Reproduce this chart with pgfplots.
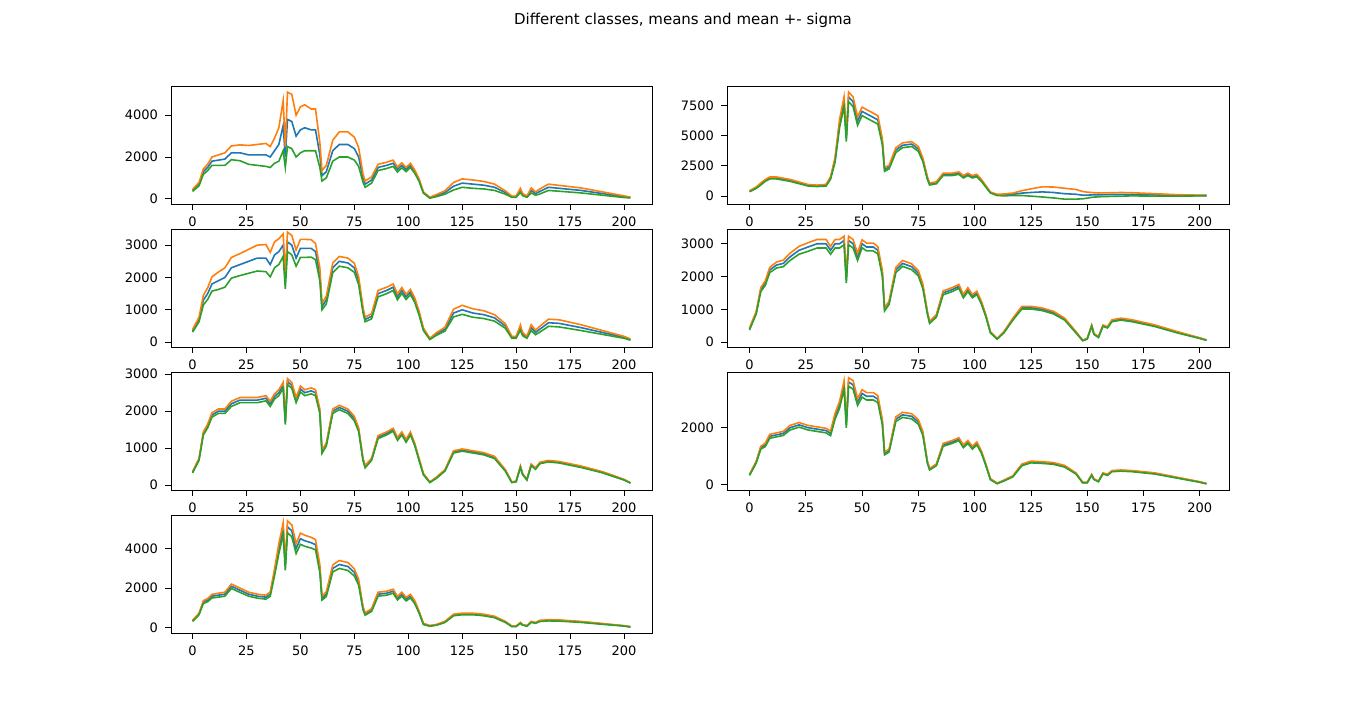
\documentclass[border=0pt]{standalone}
\usepackage{pgfplots}
\usepackage{pgfplotstable}
\usepackage{fontspec}
\setmainfont{DejaVu Sans}
\pgfplotsset{compat=1.18}
\definecolor{c0}{HTML}{1F77B4}\definecolor{c1}{HTML}{FF7F0E}\definecolor{c2}{HTML}{2CA02C}
\pgfplotstableread{
x m1 s1 m2 s2 m3 s3 m4 s4 m5 s5 m6 s6 m7 s7
0 400 50 400 40 350 40 400 30 350 20 350 20 350 30
3 700 80 700 60 700 70 900 40 700 25 800 30 700 40
5 1300 130 1000 80 1300 150 1600 60 1400 40 1300 50 1300 70
7 1500 150 1300 80 1500 180 1800 70 1600 50 1400 60 1400 80
9 1800 200 1500 80 1800 220 2200 80 1900 60 1700 70 1600 90
12 1850 250 1500 80 1900 270 2350 90 2000 60 1750 70 1650 100
15 1900 300 1400 80 2000 300 2400 100 2000 60 1800 70 1700 100
18 2200 330 1300 80 2300 320 2600 110 2200 70 2000 80 2100 110
22 2200 380 1100 70 2400 340 2800 120 2300 70 2100 80 1900 110
26 2100 450 900 60 2500 370 2900 130 2300 70 2000 80 1700 100
30 2100 500 850 60 2600 400 3000 130 2300 70 1950 80 1600 100
34 2100 550 900 70 2600 420 3000 130 2350 70 1900 80 1550 100
36 2000 500 1500 100 2400 380 2800 120 2200 70 1800 80 1700 110
38 2300 600 3000 200 2700 400 3000 130 2400 70 2400 100 2800 170
40 2600 800 6000 350 2800 400 3000 130 2500 80 2800 120 4000 250
42 3500 1200 7800 400 3000 350 3100 130 2700 80 3500 140 5000 300
43 2000 500 4800 300 1900 250 1900 100 1700 60 2100 100 3100 200
44 3800 1300 8200 400 3100 300 3100 130 2800 80 3600 150 5100 300
46 3700 1300 7800 400 3000 300 3000 130 2700 80 3500 150 4900 300
48 3000 1000 6200 350 2600 250 2600 110 2300 70 2900 120 4000 250
50 3300 1100 7000 350 2900 280 3000 120 2600 80 3200 130 4500 280
52 3400 1100 6800 350 2900 280 2900 120 2500 80 3100 130 4400 280
55 3300 1000 6500 350 2900 270 2900 120 2550 80 3100 130 4300 270
57 3300 1000 6300 350 2800 250 2800 110 2500 80 3000 120 4200 260
59 2100 600 4500 250 2100 200 2100 90 2000 60 2200 90 3000 200
60 1100 250 2200 150 1100 100 1000 50 900 40 1100 50 1500 100
62 1300 300 2400 150 1300 120 1200 50 1100 40 1200 50 1700 120
65 2300 500 3800 200 2300 150 2200 80 2000 60 2300 80 3000 180
68 2600 600 4200 200 2500 150 2400 90 2100 60 2450 90 3200 200
72 2600 600 4300 200 2450 150 2300 90 2000 60 2400 90 3100 200
75 2400 550 3900 200 2300 140 2100 80 1800 60 2200 80 2800 180
77 2000 450 3000 150 1900 120 1700 70 1500 50 1800 70 2300 150
79 1000 200 1500 100 1000 80 900 40 700 30 800 40 1000 80
80 700 150 1000 80 700 70 600 30 500 30 550 30 700 60
83 900 150 1100 80 800 80 800 40 700 30 700 30 900 70
86 1500 150 1800 100 1500 100 1500 60 1300 40 1400 50 1700 100
90 1600 150 1800 100 1600 100 1600 60 1400 40 1500 50 1750 100
93 1700 150 1900 100 1700 100 1700 60 1500 40 1600 50 1850 100
95 1400 120 1600 100 1400 90 1400 50 1250 40 1350 50 1500 90
97 1600 120 1800 100 1600 90 1600 60 1400 40 1500 50 1700 100
99 1400 100 1600 100 1400 80 1400 50 1200 40 1300 50 1450 90
101 1600 100 1700 100 1550 80 1500 50 1400 40 1450 50 1600 90
103 1300 80 1300 80 1300 70 1200 40 1100 30 1150 40 1300 80
105 900 60 800 60 900 60 800 30 700 30 700 30 800 50
107 300 30 300 40 400 40 300 20 300 20 200 20 200 30
110 50 20 100 50 100 20 100 10 80 10 50 10 100 20
113 150 50 100 80 250 40 300 20 200 15 150 15 150 20
117 300 80 150 100 400 60 700 30 400 20 300 20 300 30
121 600 180 250 200 900 120 1050 40 900 30 700 30 650 40
125 750 200 300 300 1000 140 1050 40 950 30 800 30 700 40
130 700 200 350 420 900 130 1000 40 900 30 780 30 700 40
135 650 180 300 450 850 120 900 40 850 30 750 30 650 40
140 550 150 200 450 750 100 700 30 750 30 650 30 550 35
145 300 80 150 400 500 70 300 20 400 20 400 20 300 25
148 100 30 80 300 150 30 50 10 80 10 80 10 80 15
150 100 30 80 250 150 30 100 10 100 10 80 10 80 15
152 400 100 100 200 450 80 500 20 500 20 350 20 250 20
153 200 50 100 180 250 50 250 15 300 15 200 15 150 15
155 100 30 100 160 150 30 150 10 150 10 120 10 100 15
157 400 120 120 150 450 90 500 20 550 20 400 20 300 25
159 250 80 120 150 300 70 450 20 450 20 350 20 250 20
161 350 120 130 150 400 90 650 30 600 20 480 20 350 30
165 550 150 150 150 600 110 700 30 650 20 500 20 380 30
170 500 140 150 130 580 110 650 30 620 20 480 20 370 30
180 400 120 100 100 450 90 500 25 500 20 400 20 300 25
190 250 80 60 60 300 60 300 20 350 15 250 15 200 20
200 100 40 50 30 150 30 120 10 150 10 100 10 100 10
203 60 20 50 20 80 20 60 5 60 5 40 5 50 10
}\data
\pgfplotsset{every axis/.append style={scale only axis, height=59pt,
 xmin=-10, xmax=213, xtick={0,25,...,200}, axis line style={line width=0.4pt},
 tick style={black, line width=0.4pt}, major tick length=3pt,
 tick align=outside, xtick pos=bottom, ytick pos=left,
 ticklabel style={font=\fontsize{6.5}{8}\selectfont},
 /pgf/number format/assume math mode=true, scaled y ticks=false,
 yticklabel style={/pgf/number format/1000 sep={}},
 every axis plot/.append style={line width=0.8pt, no marks}}}
\newcommand\panel[6]{%
\begin{axis}[at={(#1pt,#2pt)}, width=#6pt, ymin=#4, ymax=#5, ytick={#3}]
\addplot[c0] table[x=x,y=m\pid]{\data};
\addplot[c1] table[x=x,y expr=\thisrow{m\pid}+\thisrow{s\pid}]{\data};
\addplot[c2] table[x=x,y expr=\thisrow{m\pid}-\thisrow{s\pid}]{\data};
\end{axis}}
\begin{document}
\begin{tikzpicture}[x=1pt,y=1pt]
\path[use as bounding box] (0,0) rectangle (683,355.5);
\node[font=\fontsize{7.5}{9}\selectfont] at (341.5,345.5) {Different classes, means and mean +- sigma};
\def\pid{1}\panel{85.5}{253.5}{0,2000,4000}{-250}{5400}{240.5}
\def\pid{2}\panel{363.5}{253.5}{0,2500,5000,7500}{-650}{9100}{251}
\def\pid{3}\panel{85.5}{182}{0,1000,2000,3000}{-150}{3500}{240.5}
\def\pid{4}\panel{363.5}{182}{0,1000,2000,3000}{-150}{3450}{251}
\def\pid{5}\panel{85.5}{110.5}{0,1000,2000,3000}{-130}{3060}{240.5}
\def\pid{6}\panel{363.5}{110.5}{0,2000}{-180}{3950}{251}
\def\pid{7}\panel{85.5}{39}{0,2000,4000}{-260}{5700}{240.5}
\end{tikzpicture}
\end{document}
